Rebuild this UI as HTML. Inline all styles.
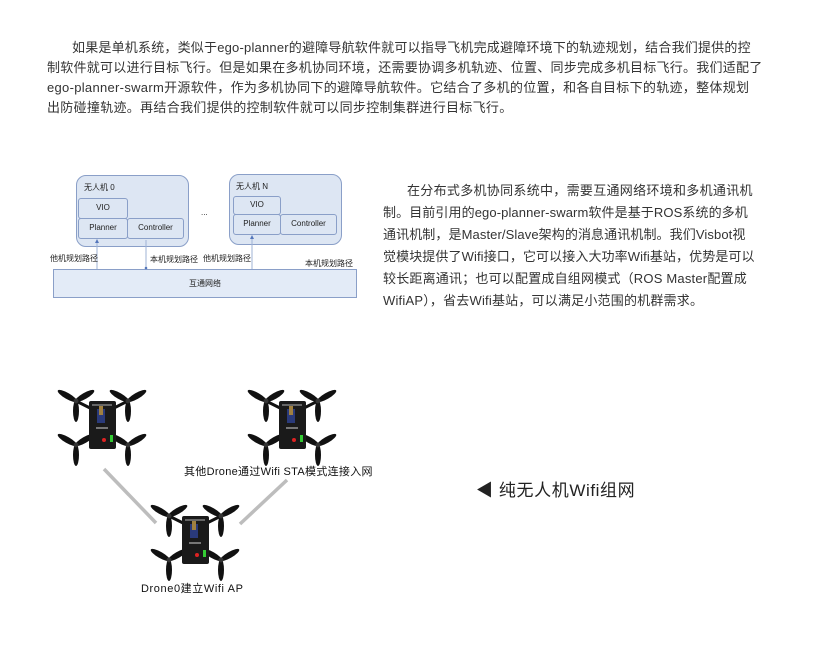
<!DOCTYPE html>
<html><head><meta charset="utf-8"><style>
body{margin:0;width:821px;height:645px;background:#fff;position:relative;overflow:hidden;font-family:"Liberation Sans","Noto Sans CJK SC",sans-serif;color:#333}
.t{position:absolute;white-space:nowrap;font-size:13px;line-height:16px}
.s{position:absolute;white-space:nowrap;font-size:8px;color:#222;font-family:"Liberation Sans","Noto Sans CJK SC",sans-serif}
.b{position:absolute;box-sizing:border-box;border:1px solid #8a9fc8;background:#dde6f3}
</style></head><body>
<div class="t" style="left:72px;top:40px;letter-spacing:0.2px">如果是单机系统，类似于ego-planner的避障导航软件就可以指导飞机完成避障环境下的轨迹规划，结合我们提供的控</div>
<div class="t" style="left:47px;top:60px;letter-spacing:0.25px">制软件就可以进行目标飞行。但是如果在多机协同环境，还需要协调多机轨迹、位置、同步完成多机目标飞行。我们适配了</div>
<div class="t" style="left:47px;top:80px;letter-spacing:0.3px">ego-planner-swarm开源软件，作为多机协同下的避障导航软件。它结合了多机的位置，和各自目标下的轨迹，整体规划</div>
<div class="t" style="left:47px;top:100px;letter-spacing:0.3px">出防碰撞轨迹。再结合我们提供的控制软件就可以同步控制集群进行目标飞行。</div>

<div class="t" style="left:407px;top:183px;letter-spacing:0.3px">在分布式多机协同系统中，需要互通网络环境和多机通讯机</div>
<div class="t" style="left:383px;top:205px;letter-spacing:0.1px">制。目前引用的ego-planner-swarm软件是基于ROS系统的多机</div>
<div class="t" style="left:383px;top:227px;letter-spacing:0.1px">通讯机制，是Master/Slave架构的消息通讯机制。我们Visbot视</div>
<div class="t" style="left:383px;top:249px;letter-spacing:0.1px">觉模块提供了Wifi接口，它可以接入大功率Wifi基站，优势是可以</div>
<div class="t" style="left:383px;top:271px;letter-spacing:0.2px">较长距离通讯；也可以配置成自组网模式（ROS Master配置成</div>
<div class="t" style="left:383px;top:293px;letter-spacing:0.2px">WifiAP），省去Wifi基站，可以满足小范围的机群需求。</div>

<div class="b" style="left:76px;top:175px;width:113px;height:72px;border-radius:10px"></div>
<div class="b" style="left:229px;top:174px;width:113px;height:71px;border-radius:10px"></div>
<div class="s" style="left:84px;top:182px">无人机 0</div>
<div class="s" style="left:236px;top:181px">无人机 N</div>
<div class="b" style="left:78px;top:198px;width:50px;height:21px;border-radius:3px"></div>
<div class="b" style="left:78px;top:218px;width:50px;height:21px;border-radius:3px"></div>
<div class="b" style="left:127px;top:218px;width:57px;height:21px;border-radius:3px"></div>
<div class="b" style="left:233px;top:196px;width:48px;height:19px;border-radius:3px"></div>
<div class="b" style="left:233px;top:214px;width:48px;height:21px;border-radius:3px"></div>
<div class="b" style="left:280px;top:214px;width:57px;height:21px;border-radius:3px"></div>
<div class="s" style="left:78px;width:50px;text-align:center;top:203px">VIO</div>
<div class="s" style="left:78px;width:50px;text-align:center;top:223px">Planner</div>
<div class="s" style="left:127px;width:57px;text-align:center;top:223px">Controller</div>
<div class="s" style="left:233px;width:48px;text-align:center;top:200px">VIO</div>
<div class="s" style="left:233px;width:48px;text-align:center;top:219px">Planner</div>
<div class="s" style="left:280px;width:57px;text-align:center;top:219px">Controller</div>
<div class="s" style="left:201px;top:208px">...</div>
<div class="b" style="left:53px;top:269px;width:304px;height:29px;border-radius:0;background:#e3ebf7"></div>
<div class="s" style="left:53px;width:304px;text-align:center;top:278px">互通网络</div>
<svg style="position:absolute;left:0;top:0" width="821" height="645">
<g stroke="#9fb3d6" stroke-width="1"><line x1="97" y1="240" x2="97" y2="269"/><line x1="146" y1="240" x2="146" y2="269"/><line x1="252" y1="236" x2="252" y2="269"/></g>
<circle cx="146" cy="268" r="1.3" fill="#5577bb"/><path d="M95,243 L97,239 L99,243Z M250,239 L252,235 L254,239Z" fill="#5577bb"/>
</svg>
<div class="s" style="left:50px;top:253px">他机规划路径</div>
<div class="s" style="left:150px;top:254px">本机规划路径</div>
<div class="s" style="left:203px;top:253px">他机规划路径</div>
<div class="s" style="left:305px;top:258px">本机规划路径</div>

<svg style="position:absolute;left:0;top:0" width="821" height="645">
<defs>
<g id="p"><g fill="#111"><ellipse cx="0" cy="-10" rx="3" ry="11" transform="rotate(-60)"/><ellipse cx="0" cy="-10" rx="3" ry="11" transform="rotate(60)"/><ellipse cx="0" cy="-10" rx="3" ry="11" transform="rotate(180)"/></g><circle r="2.5" fill="#333"/></g>
<g id="d">
<g stroke="#111" stroke-width="3"><line x1="-26" y1="-22" x2="-10" y2="-14"/><line x1="26" y1="-22" x2="10" y2="-14"/><line x1="-26" y1="22" x2="-10" y2="14"/><line x1="26" y1="22" x2="10" y2="14"/></g>
<use href="#p" x="-26" y="-22"/><use href="#p" x="26" y="-22"/><use href="#p" x="-26" y="22"/><use href="#p" x="26" y="22"/>
<rect x="-13" y="-22" width="27" height="48" rx="2" fill="#1a1a1a"/>
<rect x="-5" y="-14" width="8" height="14" fill="#2a3a7a"/>
<rect x="-3" y="-18" width="4" height="10" fill="#a08040"/>
<rect x="-10" y="-19" width="20" height="2" fill="#666"/>
<circle cx="2" cy="17" r="2" fill="#d22"/><rect x="8" y="12" width="3" height="7" fill="#3c3"/>
<rect x="-6" y="4" width="12" height="2" fill="#777"/>
</g></defs>
<use href="#d" x="102" y="423"/>
<use href="#d" x="292" y="423"/>
<use href="#d" x="195" y="538"/>
<g stroke="#bdbdbd" stroke-width="3.5"><line x1="104" y1="469" x2="156" y2="523"/><line x1="287" y1="480" x2="240" y2="524"/></g>
</svg>
<div class="t" style="left:184px;top:464px;font-size:11px;letter-spacing:0.3px;color:#111">其他Drone通过Wifi STA模式连接入网</div>
<div class="t" style="left:141px;top:581px;font-size:11px;letter-spacing:0.6px;color:#111">Drone0建立Wifi AP</div>
<div class="t" style="left:476px;top:481px;font-size:17px;line-height:20px;letter-spacing:0.6px;color:#222">◀ 纯无人机Wifi组网</div>
</body></html>
